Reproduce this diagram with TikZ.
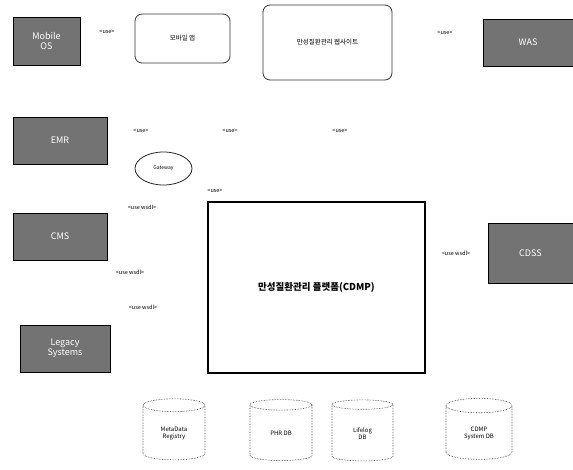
\documentclass[tikz,border=0pt]{standalone}
\usepackage{fontspec}
\setmainfont{Noto Sans CJK KR}
\usetikzlibrary{shapes.geometric,patterns}
\begin{document}
\begin{tikzpicture}[x=1pt,y=-1pt,
  actor/.style={draw=black,line width=0.9pt,fill=black!55,text=white,font=\fontsize{9}{10}\selectfont,align=center,inner sep=1pt},
  ui/.style={draw=black!80,line width=0.8pt,rounded corners=7pt,font=\fontsize{6.5}{7.5}\selectfont,align=center},
  lbl/.style={font=\fontsize{5.5}{6.5}\selectfont,inner sep=0pt},
  db/.style={cylinder,shape border rotate=90,aspect=0.45,draw=black!80,densely dotted,line width=0.6pt,font=\fontsize{6}{7}\selectfont,align=center,inner sep=1pt}
]
\useasboundingbox (0,0) rectangle (573,469);
% actors
\node[actor,minimum width=67pt,minimum height=48pt] (mobile) at (46.5,41) {Mobile\\OS};
\node[actor,minimum width=90pt,minimum height=47pt] (was) at (528,42.5) {WAS};
\node[actor,minimum width=94pt,minimum height=47pt] (emr) at (60,140.5) {EMR};
\node[actor,minimum width=94pt,minimum height=47pt] (cms) at (60,236.5) {CMS};
\node[actor,minimum width=90pt,minimum height=47pt] (legacy) at (65,348.5) {Legacy\\Systems};
\node[actor,minimum width=85pt,minimum height=60pt] (cdss) at (530.5,253) {CDSS};
% UIs
\node[ui,minimum width=95pt,minimum height=49pt] (app) at (182.5,38.5) {모바일 앱};
\node[ui,minimum width=129pt,minimum height=75pt] (web) at (327.5,42.5) {만성질환관리 웹사이트};
% ellipse
\node[ellipse,draw=black!85,line width=0.8pt,minimum width=57pt,minimum height=33pt,font=\fontsize{5}{6}\selectfont] (gw) at (163.5,168.5) {Gateway};
% platform
\node[draw=black,line width=2pt,minimum width=217pt,minimum height=171pt,font=\bfseries\fontsize{9.5}{11}\selectfont] (cdmp) at (316.5,287.5) {만성질환관리 플랫폼(CDMP)};
% databases
\node[db,minimum width=62pt,minimum height=61pt] (mdr) at (174,433.5) {MetaData\\Registry};
\node[db,minimum width=62pt,minimum height=61pt] (phr) at (281,433.5) {PHR DB};
\node[db,minimum width=61pt,minimum height=61pt] (life) at (362.5,433.5) {Lifelog\\DB};
\node[db,minimum width=66pt,minimum height=61pt] (sysdb) at (479,433.5) {CDMP\\System DB};
% stereotype labels
\node[lbl] (l1) at (107,32) {<use>};
\node[lbl] (l2) at (445,33) {<use>};
\node[lbl] (l3) at (141,131) {<use>};
\node[lbl] (l4) at (230,131) {<use>};
\node[lbl] (l5) at (340,131) {<use>};
\node[lbl] (l6) at (215,191) {<use>};
\node[lbl] (l7) at (142,207) {<use wsdl>};
\node[lbl] (l8) at (130,272) {<use wsdl>};
\node[lbl] (l9) at (143,307) {<use wsdl>};
\node[lbl] (l10) at (456,253) {<use wsdl>};
\end{tikzpicture}
\end{document}
